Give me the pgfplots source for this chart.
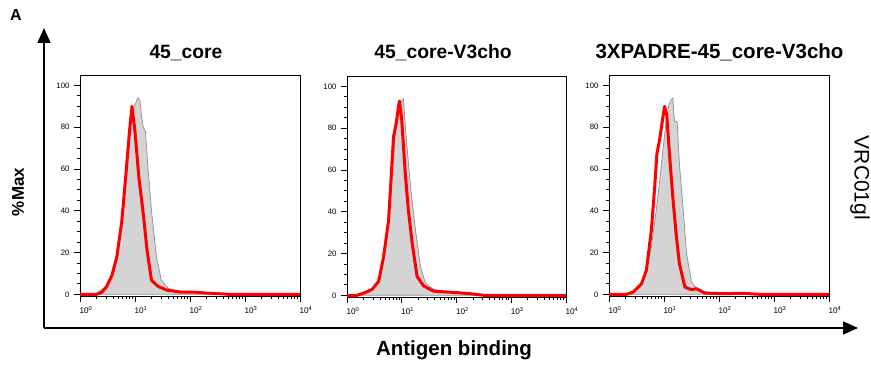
\documentclass[border=0pt]{standalone}
\usepackage{pgfplots}
\pgfplotsset{compat=1.18}
\usepackage{fontspec}
\setmainfont{Liberation Sans}
\usetikzlibrary{arrows.meta}
\definecolor{histfill}{RGB}{212,212,212}
\definecolor{histline}{RGB}{150,150,150}
\definecolor{fred}{RGB}{255,0,0}

\pgfplotstableread{
lx y
0.20 0
0.30 0.5
0.48 4
0.58 9
0.67 18
0.79 43
0.88 75
0.94 86
1.02 92
1.05 94
1.09 93
1.12 85
1.15 80
1.19 78
1.24 59
1.30 40
1.39 18
1.48 6.7
1.61 2.7
1.82 1.4
2.30 0.6
2.60 0
}\grayA
\pgfplotstableread{
lx y
0 0
0.30 0
0.40 1
0.48 3.5
0.58 9
0.67 18
0.76 35
0.84 59
0.90 78
0.945 90
1.00 78
1.07 56
1.15 38.6
1.22 21
1.30 6.7
1.42 3.8
1.58 2
1.82 1.1
2.06 1.1
2.30 0.6
2.60 0.2
2.70 0
4 0
}\redA
\pgfplotstableread{
lx y
0.24 0
0.43 1.6
0.55 6
0.67 17
0.79 44
0.88 76
0.94 89
1.00 93
1.03 94
1.08 76
1.16 52
1.25 31.5
1.34 14
1.43 6
1.58 2.9
1.88 1.3
2.37 0.5
2.60 0
}\grayB
\pgfplotstableread{
lx y
0 0
0.18 0
0.33 1.3
0.46 2.9
0.58 6.8
0.67 18.8
0.76 36
0.85 76
0.90 82.5
0.94 90.4
0.96 93
1.00 84
1.06 60
1.12 41
1.19 25
1.28 9
1.40 4.5
1.58 2
2.00 1.3
2.25 0.8
2.50 0
4 0
}\redB
\pgfplotstableread{
lx y
0.25 0
0.50 1.9
0.65 8.3
0.77 22.6
0.89 46.6
0.98 69
1.04 83
1.09 91
1.13 93
1.16 94
1.19 83
1.24 82.5
1.28 62.5
1.35 40
1.41 19.5
1.50 5.9
1.62 1.9
1.89 0.6
2.19 0.3
2.50 0
}\grayC
\pgfplotstableread{
lx y
0 0
0.32 0
0.44 1.1
0.59 5
0.68 11.5
0.77 30.6
0.83 51
0.87 67
0.92 74
0.97 83
1.01 90
1.05 86
1.10 67
1.16 46.6
1.22 29
1.28 14.7
1.38 3.5
1.50 2.2
1.59 2.7
1.65 1.9
1.74 0.6
2.07 0.3
2.44 0.5
2.74 0
4 0
}\redC

\pgfplotsset{
  flowpanel/.style={
    scale only axis,
    anchor=south west,
    height=221pt,
    xmin=0, xmax=4, ymin=-0.8, ymax=105,
    xtick={0,1,2,3,4},
    xticklabels={10\textsuperscript{0},10\textsuperscript{1},10\textsuperscript{2},10\textsuperscript{3},10\textsuperscript{4}},
    minor xtick={0.301,0.477,0.602,0.699,0.778,0.845,0.903,0.954,
                 1.301,1.477,1.602,1.699,1.778,1.845,1.903,1.954,
                 2.301,2.477,2.602,2.699,2.778,2.845,2.903,2.954,
                 3.301,3.477,3.602,3.699,3.778,3.845,3.903,3.954},
    ytick={0,20,40,60,80,100},
    minor y tick num=3,
    tick pos=left,
    tick align=outside,
    major tick length=6pt,
    minor tick length=3pt,
    tick style={black, line width=0.8pt},
    axis line style={black, line width=0.8pt},
    /pgf/number format/assume math mode=true,
    yticklabel style={font=\fontsize{7.8}{8}\selectfont, xshift=-1pt},
    xticklabel style={font=\fontsize{8.2}{9}\selectfont, xshift=6pt, yshift=-1pt},
  },
  histg/.style={fill=histfill, draw=histline, line width=0.8pt},
  histr/.style={draw=fred, line width=3pt, line join=round, line cap=round},
}

\begin{document}
\begin{tikzpicture}[x=1pt,y=1pt]
\path[use as bounding box] (0,0) rectangle (871,372);

\begin{axis}[flowpanel, at={(80pt,76pt)}, width=220pt]
\addplot[histg] table[x=lx,y=y] {\grayA} \closedcycle;
\addplot[histr] table[x=lx,y=y] {\redA};
\end{axis}

\begin{axis}[flowpanel, at={(347pt,75pt)}, width=219pt]
\addplot[histg] table[x=lx,y=y] {\grayB} \closedcycle;
\addplot[histr] table[x=lx,y=y] {\redB};
\end{axis}

\begin{axis}[flowpanel, at={(609pt,76pt)}, width=220pt]
\addplot[histg] table[x=lx,y=y] {\grayC} \closedcycle;
\addplot[histr] table[x=lx,y=y] {\redC};
\end{axis}

% big L-shaped arrows
\draw[line width=1.6pt, -{Triangle[length=15pt,width=13pt]}] (44,44) -- (44,344);
\draw[line width=1.6pt, -{Triangle[length=15pt,width=13pt]}] (44,44) -- (858,44);

\node[font=\fontsize{16}{16}\selectfont\bfseries] at (16,357) {A};
\node[font=\fontsize{19.3}{19}\selectfont\bfseries, anchor=base] at (186,313) {45\_core};
\node[font=\fontsize{19.3}{19}\selectfont\bfseries, anchor=base] at (443,313) {45\_core-V3cho};
\node[font=\fontsize{20.5}{20}\selectfont\bfseries, anchor=base] at (719.5,313) {3XPADRE-45\_core-V3cho};
\node[font=\fontsize{17}{17}\selectfont\bfseries, rotate=90] at (18,180) {\%Max};
\node[font=\fontsize{20.5}{20}\selectfont\bfseries, anchor=base] at (454,16) {Antigen binding};
\node[font=\fontsize{21}{21}\selectfont, rotate=-90] at (860,194) {VRC01gl};
\end{tikzpicture}
\end{document}
